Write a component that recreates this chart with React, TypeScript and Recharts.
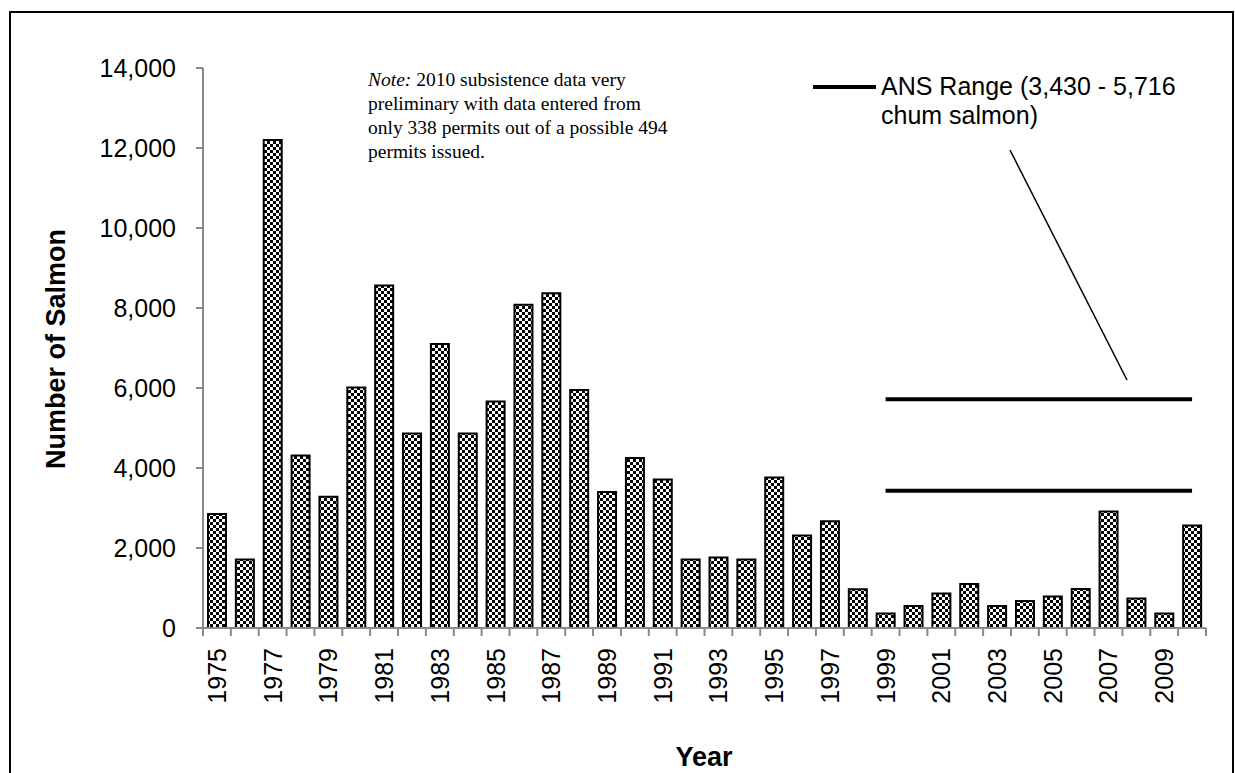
import { Bar, BarChart, ReferenceLine, XAxis, YAxis } from "recharts";

const years = [
  "1975", "1976", "1977", "1978", "1979", "1980", "1981", "1982", "1983",
  "1984", "1985", "1986", "1987", "1988", "1989", "1990", "1991", "1992",
  "1993", "1994", "1995", "1996", "1997", "1998", "1999", "2000", "2001",
  "2002", "2003", "2004", "2005", "2006", "2007", "2008", "2009", "2010",
];

const salmon = [
  2850, 1710, 12200, 4310, 3280, 6010, 8560, 4860, 7100,
  4860, 5660, 8080, 8370, 5950, 3400, 4250, 3710, 1710,
  1760, 1710, 3760, 2310, 2670, 970, 360, 550, 860,
  1100, 550, 675, 790, 975, 2910, 735, 360, 2560,
];

const yTicks = [0, 2000, 4000, 6000, 8000, 10000, 12000, 14000];

// ANS range bounds and the years the range lines span
const ansLow = 3430;
const ansHigh = 5716;
const ansFrom = "1999";
const ansTo = "2010";

const noteLines = [
  "2010 subsistence data very",
  "preliminary with data entered from",
  "only 338 permits out of a possible 494",
  "permits issued.",
];

const data = years.map((year, i) => ({ year, value: salmon[i] }));

const sans = "'Liberation Sans', Arial, sans-serif";
const serif = "'Liberation Serif', 'Times New Roman', serif";
const axisGray = "#898989";

const YearTick = (props: any) => {
  const { x, y, payload, index } = props;
  const half = payload.offset || 13.93;
  const yr = Number(payload.value);
  return (
    <g>
      <line x1={x - half} y1={y} x2={x - half} y2={y + 8} stroke={axisGray} strokeWidth={2} />
      {index === years.length - 1 && (
        <line x1={x + half} y1={y} x2={x + half} y2={y + 8} stroke={axisGray} strokeWidth={2} />
      )}
      {yr % 2 === 1 && (
        <text
          transform={`translate(${x},${y + 20}) rotate(-90)`}
          textAnchor="end"
          dominantBaseline="central"
          fontFamily={sans}
          fontSize={25}
          fill="#000"
        >
          {payload.value}
        </text>
      )}
    </g>
  );
};

export default function App() {
  return (
    <div
      style={{
        position: "absolute",
        left: 0,
        top: 0,
        width: 1235,
        height: 773,
        overflow: "hidden",
        background: "#fff",
      }}
    >
      <div
        style={{
          position: "absolute",
          left: 9,
          top: 11,
          width: 1221,
          height: 800,
          border: "2px solid #000",
        }}
      />
      <BarChart
        width={1235}
        height={773}
        data={data}
        margin={{ top: 68, right: 29, bottom: 0, left: 0 }}
        style={{ position: "absolute", left: 0, top: 0 }}
      >
        <defs>
          <pattern id="checker" patternUnits="userSpaceOnUse" width={6} height={6}>
            <rect width={6} height={6} fill="#fff" />
            <rect x={0} y={0} width={3} height={3} fill="#000" />
            <rect x={3} y={3} width={3} height={3} fill="#000" />
          </pattern>
        </defs>
        <XAxis
          dataKey="year"
          interval={0}
          height={145}
          tickSize={0}
          tickMargin={0}
          tickLine={false}
          axisLine={{ stroke: axisGray, strokeWidth: 2 }}
          tick={<YearTick />}
        />
        <YAxis
          width={203}
          domain={[0, 14000]}
          ticks={yTicks}
          tickSize={7}
          tickMargin={20}
          tickFormatter={(v: number) => v.toLocaleString("en-US")}
          axisLine={{ stroke: axisGray, strokeWidth: 2 }}
          tickLine={{ stroke: axisGray, strokeWidth: 2 }}
          tick={{ fontFamily: sans, fontSize: 25, fill: "#000" }}
        />
        <Bar
          dataKey="value"
          barSize={18}
          fill="url(#checker)"
          stroke="#000"
          strokeWidth={2}
          isAnimationActive={false}
        />
        <ReferenceLine
          segment={[{ x: ansFrom, y: ansHigh }, { x: ansTo, y: ansHigh }]}
          stroke="#000"
          strokeWidth={4}
        />
        <ReferenceLine
          segment={[{ x: ansFrom, y: ansLow }, { x: ansTo, y: ansLow }]}
          stroke="#000"
          strokeWidth={4}
        />
      </BarChart>
      <svg
        width={1235}
        height={773}
        style={{ position: "absolute", left: 0, top: 0, pointerEvents: "none" }}
      >
        <text
          transform="translate(56,349) rotate(-90)"
          textAnchor="middle"
          dominantBaseline="central"
          fontFamily={sans}
          fontWeight="bold"
          fontSize={27}
        >
          Number of Salmon
        </text>
        <text x={704} y={766} textAnchor="middle" fontFamily={sans} fontWeight="bold" fontSize={27}>
          Year
        </text>
        {noteLines.map((line, i) => (
          <text key={i} x={368} y={86 + i * 24} fontFamily={serif} fontSize={19.5}>
            {i === 0 && <tspan fontStyle="italic">Note:</tspan>}
            {i === 0 ? " " + line : line}
          </text>
        ))}
        <line x1={813} y1={87} x2={876} y2={87} stroke="#000" strokeWidth={4} />
        <text x={881} y={95} fontFamily={sans} fontSize={25}>
          ANS Range (3,430 - 5,716
        </text>
        <text x={881} y={124} fontFamily={sans} fontSize={25}>
          chum salmon)
        </text>
        <line x1={1010} y1={150} x2={1127} y2={380} stroke="#000" strokeWidth={1.5} />
      </svg>
    </div>
  );
}
